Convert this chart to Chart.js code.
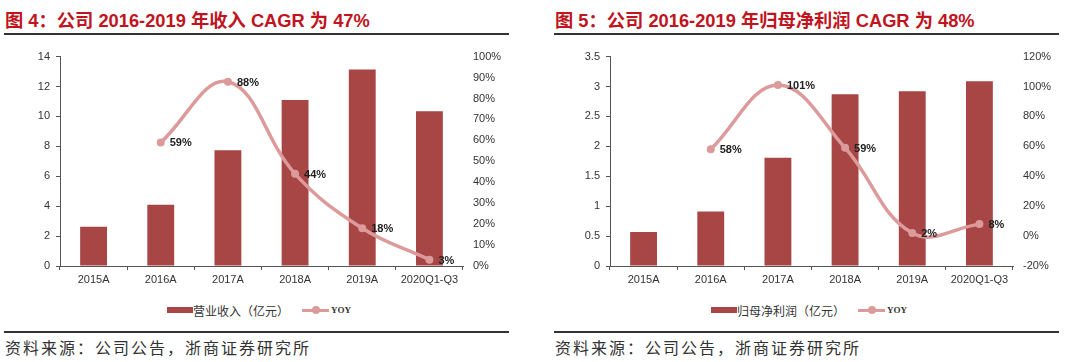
<!DOCTYPE html>
<html>
<head>
<meta charset="utf-8">
<script src="https://cdn.jsdelivr.net/npm/chart.js@4.4.0/dist/chart.umd.min.js"></script>
<style>
  body { margin: 0; background: #fff; width: 1080px; height: 362px; overflow: hidden; position: relative; }
  .panel { position: absolute; top: 0; width: 510px; height: 362px; }
  .title { position: absolute; left: 5px; top: 6px; line-height: 22px; font: bold 18.3px "Liberation Sans", "Noto Sans CJK SC", sans-serif; color: #c0141e; white-space: nowrap; }
  .rule { position: absolute; left: 4px; width: 505px; height: 2px; background: #333; }
  .chartbox { position: absolute; left: 0; top: 40px; width: 510px; height: 255px; }
  .legend { position: absolute; left: 0; width: 518px; top: 301px; height: 18px; display: flex; justify-content: center; align-items: center; font: 12px "Noto Sans CJK SC", sans-serif; color: #333; }
  .sw-bar { width: 26px; height: 6px; background: #a84545; }
  .sw-line { width: 27px; height: 3px; background: #dc9a9a; position: relative; margin-left: 13px; }
  .sw-line::after { content: ""; position: absolute; left: 10px; top: -2.5px; width: 8px; height: 8px; border-radius: 50%; background: #dc9a9a; }
  .yoy { font: bold 9px "Liberation Serif", serif; margin-left: 2px; color: #333; }
  .source { position: absolute; left: 5px; top: 335px; line-height: 22px; font: 16px "Noto Sans CJK SC", sans-serif; letter-spacing: 2px; color: #333; white-space: nowrap; }
</style>
</head>
<body>
<div class="panel" style="left:0">
  <div class="title">图 4：公司 2016-2019 年收入 CAGR 为 47%</div>
  <div class="rule" style="top:33px"></div>
  <div class="chartbox"><canvas id="c1" width="510" height="255"></canvas></div>
  <div class="legend"><span class="sw-bar"></span><span>营业收入（亿元）</span><span class="sw-line"></span><span class="yoy">YOY</span></div>
  <div class="rule" style="top:331px"></div>
  <div class="source">资料来源：公司公告，浙商证券研究所</div>
</div>
<div class="panel" style="left:550px">
  <div class="title">图 5：公司 2016-2019 年归母净利润 CAGR 为 48%</div>
  <div class="rule" style="top:33px"></div>
  <div class="chartbox"><canvas id="c2" width="510" height="255"></canvas></div>
  <div class="legend"><span class="sw-bar"></span><span>归母净利润（亿元）</span><span class="sw-line"></span><span class="yoy">YOY</span></div>
  <div class="rule" style="top:331px"></div>
  <div class="source">资料来源：公司公告，浙商证券研究所</div>
</div>
<script>
const categories = ["2015A", "2016A", "2017A", "2018A", "2019A", "2020Q1-Q3"];

// 图4 营业收入
const revenue = [2.62, 4.09, 7.74, 11.1, 13.14, 10.35];
const revenueYoy = [null, 59, 88, 44, 18, 3];

// 图5 归母净利润
const profit = [0.57, 0.91, 1.81, 2.87, 2.92, 3.09];
const profitYoy = [null, 58, 101, 59, 2, 8];

const barColor = "#a84545";
const lineColor = "#dc9a9a";
const tickFont = { family: "Liberation Sans", size: 11 };

// labels next to the YOY points
const pointLabels = {
  id: "pointLabels",
  afterDatasetsDraw(chart) {
    const ctx = chart.ctx;
    const meta = chart.getDatasetMeta(1);
    const data = chart.data.datasets[1].data;
    ctx.save();
    ctx.font = "bold 11px 'Liberation Sans'";
    ctx.fillStyle = "#222";
    ctx.textAlign = "left";
    ctx.textBaseline = "middle";
    meta.data.forEach(function (el, i) {
      if (data[i] == null) return;
      ctx.fillText(data[i] + "%", el.x + 9, el.y + 1);
    });
    ctx.restore();
  }
};

function makeChart(id, bars, yoy, leftMax, leftStep, rightMin, rightMax, rightStep) {
  const ctx = document.getElementById(id).getContext("2d");
  return new Chart(ctx, {
    data: {
      labels: categories,
      datasets: [
        {
          type: "bar",
          label: "bars",
          data: bars,
          backgroundColor: barColor,
          borderWidth: 0,
          barPercentage: 0.4,
          categoryPercentage: 1,
          yAxisID: "y",
          order: 2,
        },
        {
          type: "line",
          label: "YOY",
          data: yoy,
          borderColor: lineColor,
          backgroundColor: lineColor,
          borderWidth: 3.5,
          pointRadius: 4,
          pointBackgroundColor: lineColor,
          pointBorderWidth: 0,
          tension: 0.4,
          yAxisID: "y1",
          order: 1,
        },
      ],
    },
    options: {
      responsive: false,
      devicePixelRatio: 1,
      animation: false,
      layout: { padding: { top: 13, left: 0, right: 0, bottom: 0 } },
      plugins: { legend: { display: false }, tooltip: { enabled: false } },
      scales: {
        x: {
          offset: true,
          grid: { offset: true, drawOnChartArea: false, drawTicks: true, tickLength: 4, color: "#555" },
          border: { color: "#555", width: 1 },
          ticks: { color: "#333", font: tickFont, padding: 3, maxRotation: 0, autoSkip: false },
          afterFit(s) { s.height = 29; },
        },
        y: {
          position: "left",
          min: 0,
          max: leftMax,
          grid: { drawOnChartArea: false, drawTicks: true, tickLength: 4, color: "#555" },
          border: { color: "#555", width: 1 },
          ticks: {
            stepSize: leftStep,
            color: "#333",
            font: tickFont,
            padding: 6,
            callback: function (v) { return String(v); },
          },
          afterFit(s) { s.width = 60; },
        },
        y1: {
          position: "right",
          min: rightMin,
          max: rightMax,
          grid: { drawOnChartArea: false, drawTicks: false },
          border: { display: false },
          ticks: {
            stepSize: rightStep,
            color: "#333",
            font: tickFont,
            padding: 10,
            callback: function (v) { return v + "%"; },
          },
          afterFit(s) { s.width = 47; },
        },
      },
    },
    plugins: [pointLabels],
  });
}

makeChart("c1", revenue, revenueYoy, 14, 2, 0, 100, 10);
makeChart("c2", profit, profitYoy, 3.5, 0.5, -20, 120, 20);
</script>
</body>
</html>
